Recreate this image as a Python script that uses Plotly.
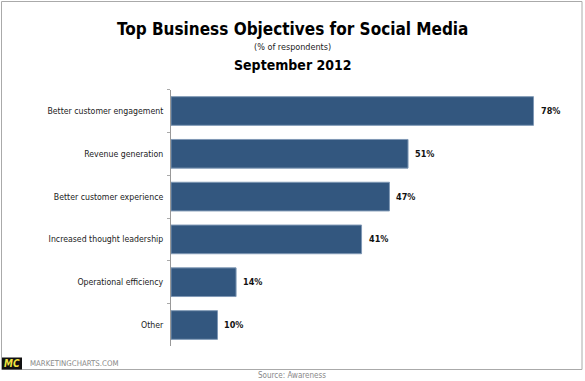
import plotly.graph_objects as go

categories = ["Better customer engagement", "Revenue generation", "Better customer experience",
              "Increased thought leadership", "Operational efficiency", "Other"]
values = [78, 51, 47, 41, 14, 10]
value_labels = ["78%", "51%", "47%", "41%", "14%", "10%"]

W, H = 585, 381
FONT = "DejaVu Sans Condensed, DejaVu Sans, Verdana, sans-serif"

fig = go.Figure(go.Bar(
    x=values, y=categories, orientation="h",
    marker=dict(color="#33577f", line=dict(color="#7f98b5", width=1)),
    cliponaxis=False, hoverinfo="skip",
))

def px_x(p):
    return p / W

def px_y(p):
    return 1 - p / H

fig.update_layout(
    width=W, height=H,
    margin=dict(l=0, r=0, t=0, b=0),
    paper_bgcolor="white", plot_bgcolor="white",
    showlegend=False, bargap=0.33,
    font=dict(family=FONT, size=9, color="#222222"),
    xaxis=dict(domain=[px_x(171), px_x(580)], range=[0, 88], visible=False),
    yaxis=dict(domain=[px_y(346.4), px_y(89.6)], autorange="reversed",
               showline=True, linecolor="#999999", linewidth=1,
               ticks="outside", tickson="boundaries", ticklen=3, tickcolor="#aaaaaa",
               ticklabelstandoff=5,
               showgrid=False, tickfont=dict(family=FONT, size=8.7, color="#222222")),
)

ann = [
    dict(text="<b>Top Business Objectives for Social Media</b>", x=0.5, y=px_y(29),
         font=dict(size=17, color="#000000")),
    dict(text="(% of respondents)", x=0.5, y=px_y(47), font=dict(size=9, color="#222222")),
    dict(text="<b>September 2012</b>", x=0.5, y=px_y(65), font=dict(size=14, color="#000000")),
    dict(text="MARKETINGCHARTS.COM", x=px_x(28), y=px_y(363.5), xanchor="left",
         font=dict(size=7.8, color="#888888")),
    dict(text="Source: Awareness", x=px_x(292), y=px_y(375), font=dict(size=8, color="#888888")),
    dict(text="<b><i>MC</i></b>", x=px_x(12), y=px_y(363.5), font=dict(size=10, color="#f2e640")),
]
for a in ann:
    a.update(xref="paper", yref="paper", showarrow=False)
    a.setdefault("xanchor", "center")
    a["yanchor"] = "middle"

for v, c, t in zip(values, categories, value_labels):
    ann.append(dict(x=v, y=c, xref="x", yref="y", text="<b>" + t + "</b>", showarrow=False,
                    xanchor="left", yanchor="middle", xshift=5,
                    font=dict(family=FONT, size=9, color="#111111")))
fig.update_layout(annotations=ann)

fig.add_shape(type="rect", xref="paper", yref="paper",
              x0=px_x(1.5), x1=px_x(582), y0=px_y(369.5), y1=px_y(1.5),
              line=dict(color="#aaaaaa", width=1), fillcolor="rgba(0,0,0,0)", layer="below")
fig.add_shape(type="rect", xref="paper", yref="paper",
              x0=px_x(2), x1=px_x(22), y0=px_y(369.5), y1=px_y(357.5),
              line=dict(width=0), fillcolor="#111111")

fig.write_html("out.html", config={"displayModeBar": False},
               post_script="document.body.style.margin='0';document.body.style.padding='0';")
